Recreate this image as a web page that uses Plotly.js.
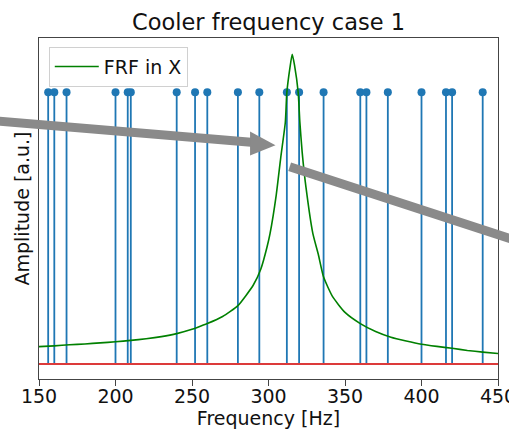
<!DOCTYPE html>
<html>
<head>
<meta charset="utf-8">
<script src="https://cdn.plot.ly/plotly-3.0.1.min.js"></script>
<style>html,body{margin:0;padding:0;background:#fff;}#chart{width:509px;height:430px;}</style>
</head>
<body>
<div id="chart"></div>
<script>
// Cooler excitation frequencies (stems) [Hz]
const coolerFrequencies = [156,160,168,200,208,210,240,252,260,280,294,312,320,336,360,364,378,400,416,420,440];
// Stem amplitudes (all equal, a.u.)
const coolerAmplitudes = [1,1,1,1,1,1,1,1,1,1,1,1,1,1,1,1,1,1,1,1,1];
// FRF in X
const frfFrequency = [150,160,170,180,190,200,210,220,230,240,250,253,260,270,280,290,295,299,301,305,308,311,312,314,315.5,317,319.4,320.5,322,324.5,329,332.5,336,342,350,360,370,380,390,400,410,420,430,440,450];
const frfAmplitude = [0.064,0.067,0.071,0.074,0.078,0.082,0.087,0.093,0.101,0.112,0.128,0.134,0.149,0.175,0.215,0.29,0.35,0.43,0.48,0.62,0.76,0.89,1.00,1.09,1.14,1.10,1.00,0.89,0.78,0.65,0.48,0.405,0.32,0.247,0.19,0.149,0.12,0.099,0.085,0.073,0.065,0.058,0.050,0.044,0.039];
// Baseline
const baselineX = [150, 450];
const baselineY = [0, 0];
const xTickValues = [150,200,250,300,350,400,450];

const W = 509, H = 430;
const M = {l: 38.5, r: 10.5, t: 38, b: 51};
const PW = W - M.l - M.r, PH = H - M.t - M.b;
const px = x => (x - M.l) / PW;
const py = y => (H - M.b - y) / PH;

// stem lines built from data
const stemX = [], stemY = [];
coolerFrequencies.forEach((f, i) => { stemX.push(f, f, null); stemY.push(0, coolerAmplitudes[i], null); });

const traces = [
  {x: stemX, y: stemY, mode: 'lines', line: {color: '#1f77b4', width: 1.8}, showlegend: false, hoverinfo: 'skip'},
  {x: coolerFrequencies, y: coolerAmplitudes, mode: 'markers', marker: {color: '#1f77b4', size: 8}, showlegend: false},
  {x: baselineX, y: baselineY, mode: 'lines', line: {color: '#dc3a3a', width: 2}, showlegend: false},
  {x: frfFrequency, y: frfAmplitude, mode: 'lines', name: 'FRF in X', line: {color: '#008000', width: 1.6, shape: 'spline', smoothing: 0.5}}
];

const gray = '#8a8a8a';
const shapes = [
  {type: 'line', xref: 'paper', yref: 'paper', x0: px(-5), y0: py(120.9), x1: px(254), y1: py(142.5), line: {color: gray, width: 9}, layer: 'above'},
  {type: 'path', xref: 'paper', yref: 'paper',
   path: `M ${px(250)} ${py(131.5)} L ${px(275.5)} ${py(145.3)} L ${px(250)} ${py(155.5)} Z`,
   fillcolor: gray, line: {color: gray, width: 0}, layer: 'above'},
  {type: 'line', xref: 'paper', yref: 'paper', x0: px(289.7), y0: py(166.7), x1: px(520), y1: py(241.6), line: {color: gray, width: 9}, layer: 'above'}
];

const layout = {
  width: W, height: H,
  margin: {l: M.l, r: M.r, t: M.t, b: M.b, pad: 0},
  paper_bgcolor: '#fff', plot_bgcolor: '#fff',
  font: {family: 'DejaVu Sans', size: 19, color: '#111'},
  title: {text: 'Cooler frequency case 1', font: {family: 'DejaVu Sans', size: 22.5, color: '#111'}, x: 0.5, xref: 'paper', y: 0.948, yref: 'container', yanchor: 'middle'},
  xaxis: {
    range: [150, 450], tickvals: xTickValues, ticktext: xTickValues.map(String),
    showgrid: false, zeroline: false, showline: true, linecolor: '#444', linewidth: 1, mirror: true,
    ticks: 'outside', ticklen: 6, tickcolor: '#444', ticklabelstandoff: -6, ticklabeloverflow: 'allow',
    tickfont: {family: 'DejaVu Sans', size: 19, color: '#111'},
    title: {text: 'Frequency [Hz]', font: {family: 'DejaVu Sans', size: 19, color: '#111'}, standoff: 4},
    automargin: false
  },
  yaxis: {
    range: [-0.055, 1.2], showticklabels: false, ticks: '',
    showgrid: false, zeroline: false, showline: true, linecolor: '#444', linewidth: 1, mirror: true,
    title: {text: 'Amplitude [a.u.]', font: {family: 'DejaVu Sans', size: 19, color: '#111'}, standoff: 3},
    automargin: false
  },
  legend: {x: px(48.3), y: py(46.7), xanchor: 'left', yanchor: 'top', itemwidth: 44, bgcolor: 'rgba(255,255,255,0.85)', bordercolor: '#d0d0d0', borderwidth: 1, font: {family: 'DejaVu Sans', size: 19, color: '#111'}},
  shapes: shapes,
  showlegend: true
};

Plotly.newPlot('chart', traces, layout, {staticPlot: true, displayModeBar: false});
</script>
</body>
</html>
